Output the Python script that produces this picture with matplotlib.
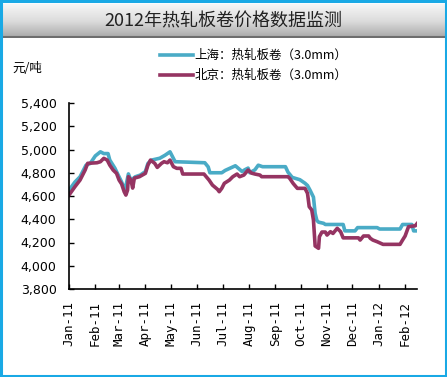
import numpy as np
import pandas as pd
import matplotlib
matplotlib.use('Agg')
import matplotlib.pyplot as plt
import matplotlib.dates as mdates

plt.rcParams['font.family'] = ['Noto Sans CJK SC', 'DejaVu Sans']

title = "2012年热轧板卷价格数据监测"
unit_label = "元/吨"
sh_label = "上海：热轧板卷（3.0mm）"
bj_label = "北京：热轧板卷（3.0mm）"

# Shanghai series
sh_dates = ["2011-01-01", "2011-01-08", "2011-01-14", "2011-01-21", "2011-01-26",
            "2011-02-01", "2011-02-07", "2011-02-11", "2011-02-16", "2011-02-18",
            "2011-02-24", "2011-02-28", "2011-03-04", "2011-03-08", "2011-03-12",
            "2011-03-15", "2011-03-20", "2011-03-26", "2011-04-01", "2011-04-04",
            "2011-04-09", "2011-04-18", "2011-04-24", "2011-04-30", "2011-05-06",
            "2011-06-10", "2011-06-14", "2011-06-16", "2011-06-30", "2011-07-04",
            "2011-07-10", "2011-07-16", "2011-07-24", "2011-07-27", "2011-07-31",
            "2011-08-02", "2011-08-08", "2011-08-12", "2011-08-17", "2011-09-13",
            "2011-09-16", "2011-09-21", "2011-09-30", "2011-10-06", "2011-10-09",
            "2011-10-12", "2011-10-16", "2011-10-18", "2011-10-20", "2011-10-22",
            "2011-10-28", "2011-10-30", "2011-11-20", "2011-11-22", "2011-12-04",
            "2011-12-07", "2011-12-30", "2012-01-02", "2012-01-26", "2012-01-29",
            "2012-02-09", "2012-02-11", "2012-02-15"]
sh_values = [4650, 4720, 4765, 4865, 4880,
             4945, 4980, 4965, 4965, 4910,
             4840, 4780, 4720, 4650, 4790,
             4735, 4765, 4780, 4810, 4880,
             4910, 4925, 4950, 4980, 4895,
             4886, 4850, 4800, 4800, 4820,
             4840, 4860, 4810, 4825, 4840,
             4800, 4825, 4865, 4852, 4852,
             4805, 4760, 4740, 4710, 4690,
             4650, 4590, 4450, 4390, 4375,
             4365, 4355, 4355, 4300, 4300,
             4328, 4328, 4316, 4316, 4355,
             4355, 4300, 4300]

# Beijing series
bj_dates = ["2011-01-01", "2011-01-08", "2011-01-14", "2011-01-20", "2011-01-23",
            "2011-02-03", "2011-02-07", "2011-02-11", "2011-02-15", "2011-02-18",
            "2011-02-22", "2011-02-26", "2011-03-01", "2011-03-04", "2011-03-07",
            "2011-03-09", "2011-03-11", "2011-03-12", "2011-03-15", "2011-03-17",
            "2011-03-19", "2011-03-25", "2011-04-01", "2011-04-04", "2011-04-07",
            "2011-04-12", "2011-04-15", "2011-04-20", "2011-04-23", "2011-04-27",
            "2011-04-30", "2011-05-04", "2011-05-08", "2011-05-13", "2011-05-15",
            "2011-06-09", "2011-06-15", "2011-06-19", "2011-06-25", "2011-06-27",
            "2011-06-30", "2011-07-03", "2011-07-09", "2011-07-13", "2011-07-18",
            "2011-07-21", "2011-07-26", "2011-07-31", "2011-08-04", "2011-08-08",
            "2011-08-14", "2011-08-16", "2011-09-16", "2011-09-18", "2011-09-22",
            "2011-09-27", "2011-10-06", "2011-10-09", "2011-10-11", "2011-10-14",
            "2011-10-16", "2011-10-18", "2011-10-22", "2011-10-23", "2011-10-26",
            "2011-10-30", "2011-11-01", "2011-11-05", "2011-11-08", "2011-11-13",
            "2011-11-17", "2011-11-20", "2011-12-08", "2011-12-10", "2011-12-14",
            "2011-12-20", "2011-12-22", "2011-12-25", "2011-12-30", "2012-01-06",
            "2012-01-26", "2012-01-29", "2012-02-01", "2012-02-05", "2012-02-13",
            "2012-02-15"]
bj_values = [4608, 4680, 4737, 4823, 4881,
             4886, 4895, 4924, 4909, 4866,
             4823, 4795, 4737, 4703, 4637,
             4608, 4651, 4766, 4737, 4668,
             4754, 4766, 4795, 4866, 4909,
             4881, 4846, 4881, 4895, 4886,
             4909, 4852, 4838, 4838, 4789,
             4789, 4737, 4694, 4657, 4637,
             4666, 4709, 4737, 4766, 4789,
             4766, 4780, 4823, 4797, 4789,
             4780, 4766, 4766, 4752, 4709,
             4666, 4666, 4623, 4508, 4480,
             4393, 4170, 4150, 4250, 4290,
             4290, 4264, 4293, 4278, 4322,
             4293, 4240, 4240, 4221, 4256,
             4256, 4236, 4221, 4207, 4184,
             4184, 4221, 4256, 4336, 4344,
             4362]

month_ticks = pd.date_range("2011-01-01", "2012-02-01", freq="MS")

sh_color = '#4aabc6'
bj_color = '#953462'

fig = plt.figure(figsize=(4.47, 3.77), dpi=100)

# title banner with grey gradient
band = fig.add_axes([0.004, 1 - 38 / 377, 0.992, 34 / 377])
grad = np.linspace(0, 1, 64).reshape(-1, 1)
band.imshow(grad, aspect='auto', cmap=matplotlib.colors.LinearSegmentedColormap.from_list(
    'g', ['#f6f6f6', '#dcdcdc', '#a8a8a8']), extent=[0, 1, 0, 1], origin='upper')
band.axhline(0.02, color='#6e6e6e', lw=1.5)
band.set_axis_off()
band.text(0.5, 0.5, title, ha='center', va='center', fontsize=13, color='#222222')

ax = fig.add_axes([69 / 447, 1 - 289 / 377, 348 / 447, 186 / 377])
ax.plot(pd.to_datetime(sh_dates), sh_values, color=sh_color, lw=2.6, label=sh_label)
ax.plot(pd.to_datetime(bj_dates), bj_values, color=bj_color, lw=2.6, label=bj_label)

ax.set_ylim(3800, 5400)
ax.set_yticks(np.arange(3800, 5401, 200))
ax.yaxis.set_major_formatter(matplotlib.ticker.FuncFormatter(lambda v, p: f"{int(v):,}"))
ax.set_xlim(pd.Timestamp("2011-01-01"), pd.Timestamp("2012-02-15"))
ax.set_xticks(month_ticks)
ax.set_xticklabels([d.strftime("%b-%y") for d in month_ticks], rotation=90,
                   family='DejaVu Sans Mono', fontsize=9)
for lab in ax.get_yticklabels():
    lab.set_fontsize(9)
    lab.set_family('DejaVu Sans')
ax.tick_params(axis='both', direction='in', length=3.5, width=1, colors='black')
ax.tick_params(axis='y', pad=9)
ax.tick_params(axis='x', pad=9)
for s in ['top', 'right']:
    ax.spines[s].set_visible(False)
for s in ['left', 'bottom']:
    ax.spines[s].set_linewidth(1.2)

fig.legend(loc='upper left', bbox_to_anchor=(160 / 447, 1 - 49 / 377), frameon=False,
           fontsize=9, handlelength=2.6, handletextpad=0.15, borderpad=0,
           borderaxespad=0, labelspacing=0.55)

fig.text(12 / 447, 1 - 68 / 377, unit_label, fontsize=9, va='center', ha='left')

# outer border
fig.patches.append(matplotlib.patches.Rectangle((0.002, 0.003), 0.995, 0.994,
                   transform=fig.transFigure, fill=False, edgecolor='#19a9e5', lw=2.2))

fig.savefig("out.png", dpi=100)
